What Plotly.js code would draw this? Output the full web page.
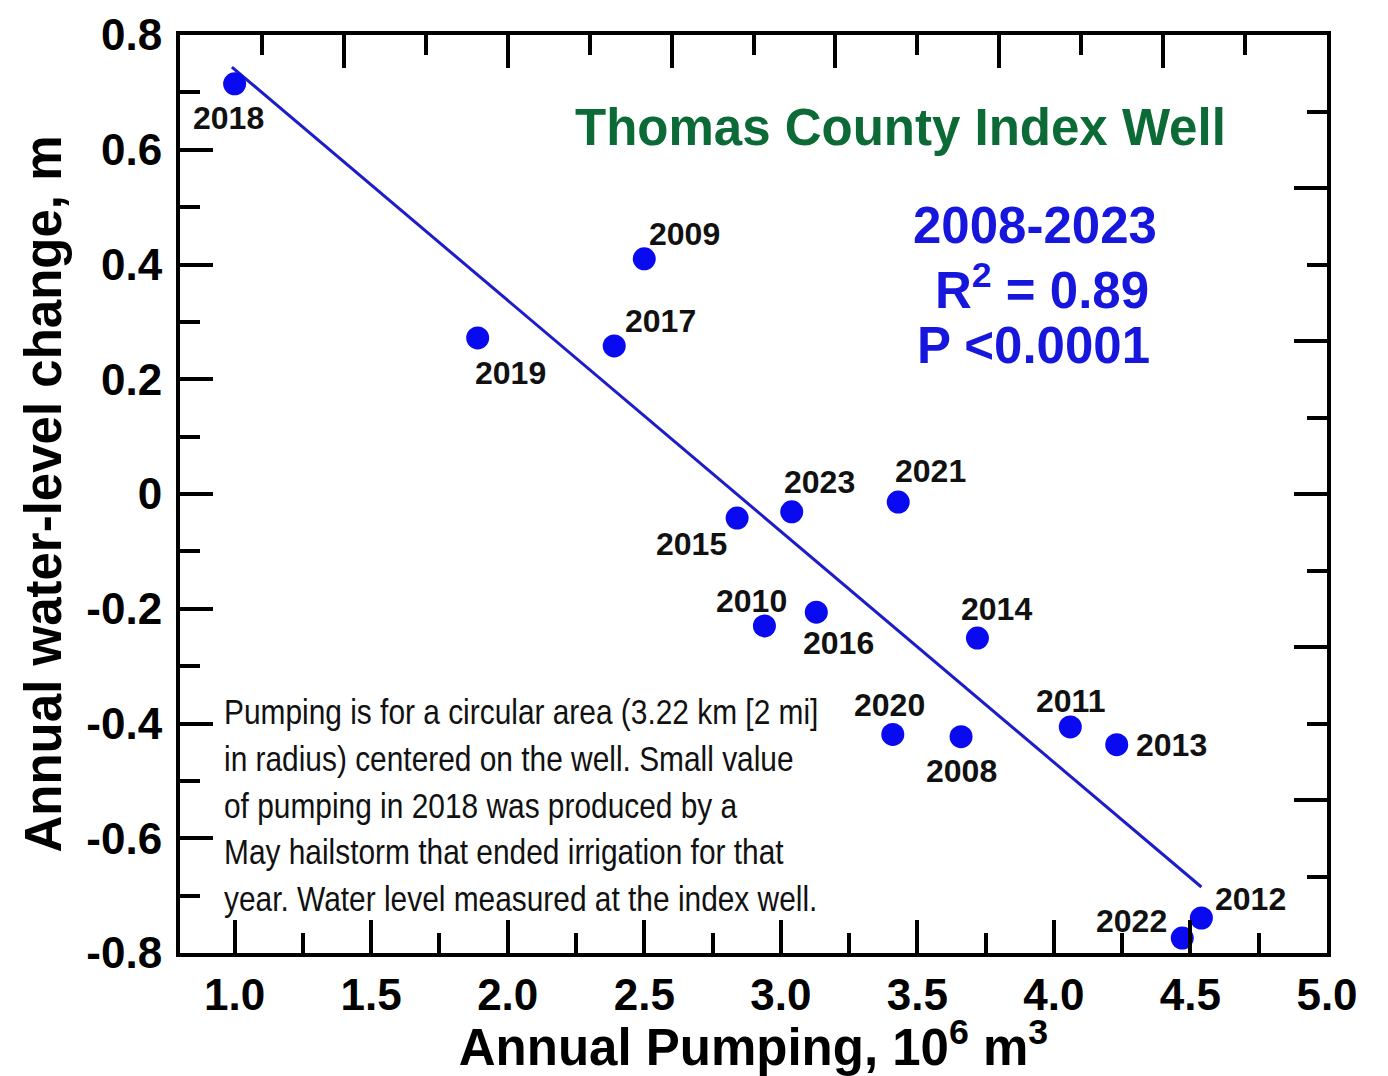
<!DOCTYPE html>
<html>
<head>
<meta charset="utf-8">
<script src="https://cdn.plot.ly/plotly-3.0.1.min.js"></script>
<style>
  html, body { margin: 0; padding: 0; background: #ffffff; }
  #chart { width: 1388px; height: 1076px; }
</style>
</head>
<body>
<div id="chart"></div>
<script>
// ---- Data ----
const years     = ["2018","2009","2019","2017","2015","2023","2021","2010","2016","2014","2020","2008","2011","2013","2012","2022"];
const pumping   = [1.00, 2.50, 1.89, 2.39, 2.84, 3.04, 3.43, 2.94, 3.13, 3.72, 3.41, 3.66, 4.06, 4.23, 4.54, 4.47];
const wlChange  = [0.715, 0.410, 0.272, 0.258, -0.042, -0.031, -0.014, -0.230, -0.206, -0.251, -0.419, -0.423, -0.406, -0.437, -0.739, -0.774];

// regression line end points
const fitX = [0.99, 4.54];
const fitY = [0.744, -0.685];

// tick labels
const xTickVals  = [1.0, 1.5, 2.0, 2.5, 3.0, 3.5, 4.0, 4.5, 5.0];
const xTickText  = ["1.0","1.5","2.0","2.5","3.0","3.5","4.0","4.5","5.0"];
const yTickVals  = [-0.8, -0.6, -0.4, -0.2, 0, 0.2, 0.4, 0.6, 0.8];
const yTickText  = ["-0.8","-0.6","-0.4","-0.2","0","0.2","0.4","0.6","0.8"];

// texts
const titleText = "Thomas County Index Well";
const statsText = ["2008-2023", "R<sup>2</sup> = 0.89", "P <0.0001"];
const noteLines = [
  "Pumping is for a circular area (3.22 km [2 mi]",
  "in radius) centered on the well. Small value",
  "of pumping in 2018 was produced by a",
  "May hailstorm that ended irrigation for that",
  "year. Water level measured at the index well."
];

// ---- Styling ----
const BOLD = "Liberation Sans, Arial, Helvetica, sans-serif";
// label offsets in pixels (dx, dy; dy positive = up)
const labelShift = {
  "2018": [-6, -34], "2009": [40, 25], "2019": [33, -35], "2017": [46, 25],
  "2015": [-46, -26], "2023": [28, 30], "2021": [32, 31], "2010": [-13, 25],
  "2016": [22, -31], "2014": [19, 29], "2020": [-3, 29], "2008": [0, -34],
  "2011": [0, 26], "2013": [55, 0], "2012": [49, 19], "2022": [-51, 17]
};
// paper positions for the stats lines (centre x, centre y)
const statsPos = [[0.7454, 0.792], [0.7515, 0.7255], [0.7437, 0.6623]];

const traces = [
  {
    x: fitX, y: fitY, mode: "lines", type: "scatter",
    line: { color: "#1c1cc8", width: 3 }, hoverinfo: "skip", showlegend: false
  },
  {
    x: pumping, y: wlChange, mode: "markers", type: "scatter",
    marker: { color: "#0a0af0", size: 23 }, text: years, showlegend: false
  },
  { x: [], y: [], xaxis: "x2", yaxis: "y2", type: "scatter", mode: "markers", showlegend: false }
];

const annotations = years.map((yr, i) => ({
  x: pumping[i], y: wlChange[i], xref: "x", yref: "y",
  xanchor: "center", yanchor: "middle",
  text: yr, showarrow: false,
  xshift: labelShift[yr][0], yshift: labelShift[yr][1],
  font: { family: BOLD, size: 32, weight: 700, color: "#111111" }
}));

annotations.push({
  xref: "paper", yref: "paper", x: 0.628, y: 0.899, xanchor: "center", yanchor: "middle",
  text: titleText, showarrow: false,
  font: { family: BOLD, size: 51, weight: 700, color: "#0b6a36" }
});
statsText.forEach((t, i) => annotations.push({
  xref: "paper", yref: "paper", x: statsPos[i][0], y: statsPos[i][1],
  xanchor: "center", yanchor: "middle",
  text: t, showarrow: false,
  font: { family: BOLD, size: 51, weight: 700, color: "#1616dc" }
}));
const NOTE_INDEX = annotations.length;
annotations.push({
  xref: "paper", yref: "paper", x: 0.0366, y: 0.161,
  xanchor: "left", yanchor: "middle",
  text: noteLines.join("<br>"), showarrow: false, align: "left",
  font: { family: "Liberation Sans, Arial, sans-serif", size: 36, color: "#111111" }
});

const axisCommon = {
  showline: true, linecolor: "#000000", linewidth: 4,
  ticks: "inside", tickcolor: "#000000", tickwidth: 4, ticklen: 33,
  showgrid: false, zeroline: false
};
const minorCommon = { ticks: "inside", ticklen: 20, tickwidth: 4, tickcolor: "#000000", showgrid: false };

const layout = {
  width: 1388, height: 1076,
  paper_bgcolor: "#ffffff", plot_bgcolor: "#ffffff",
  margin: { l: 180, r: 61, t: 35, b: 123, pad: 0 },
  showlegend: false,
  xaxis: Object.assign({}, axisCommon, {
    range: [0.8, 5.0], tickmode: "array", tickvals: xTickVals, ticktext: xTickText,
    minor: Object.assign({ tickmode: "linear", tick0: 1.0, dtick: 0.25 }, minorCommon),
    tickfont: { family: BOLD, size: 44, weight: 700, color: "#000000" },
    ticklabelstandoff: 0,
    title: { text: "Annual Pumping, 10<sup>6</sup> m<sup>3</sup>", standoff: 20,
             font: { family: BOLD, size: 51, weight: 700, color: "#000000" } },
    automargin: false
  }),
  yaxis: Object.assign({}, axisCommon, {
    range: [-0.8, 0.8], tickmode: "array", tickvals: yTickVals, ticktext: yTickText,
    minor: Object.assign({ tickmode: "linear", tick0: 0, dtick: 0.1 }, minorCommon),
    tickfont: { family: BOLD, size: 44, weight: 700, color: "#000000" },
    ticklabelstandoff: 5,
    title: { text: "Annual water-level change, m", standoff: 10,
             font: { family: BOLD, size: 51, weight: 700, color: "#000000" } },
    automargin: false
  }),
  xaxis2: Object.assign({}, axisCommon, {
    overlaying: "x", side: "top", anchor: "y2", range: [0.8, 5.0],
    tickmode: "linear", tick0: 1.4, dtick: 0.6, showticklabels: false,
    minor: Object.assign({ tickmode: "linear", tick0: 1.1, dtick: 0.3 }, minorCommon)
  }),
  yaxis2: Object.assign({}, axisCommon, {
    overlaying: "y", side: "right", anchor: "x2", range: [-0.8, 0.8],
    tickmode: "linear", tick0: 0, dtick: 0.8 / 3, showticklabels: false,
    minor: Object.assign({ tickmode: "linear", tick0: 0, dtick: 0.8 / 6 }, minorCommon)
  }),
  annotations: annotations
};

Plotly.newPlot("chart", traces, layout, { staticPlot: true, displayModeBar: false }).then(gd => {
  // condense the note text horizontally (the reference uses a narrow typeface)
  const g = gd.querySelector('g.annotation[data-index="' + NOTE_INDEX + '"] text.annotation-text');
  if (g) {
    const bb = g.getBBox();
    const bx = bb.x;
    g.setAttribute("transform", "translate(" + bx + ",0) scale(0.83,1) translate(" + (-bx) + ",0)");
  }
});
</script>
</body>
</html>
